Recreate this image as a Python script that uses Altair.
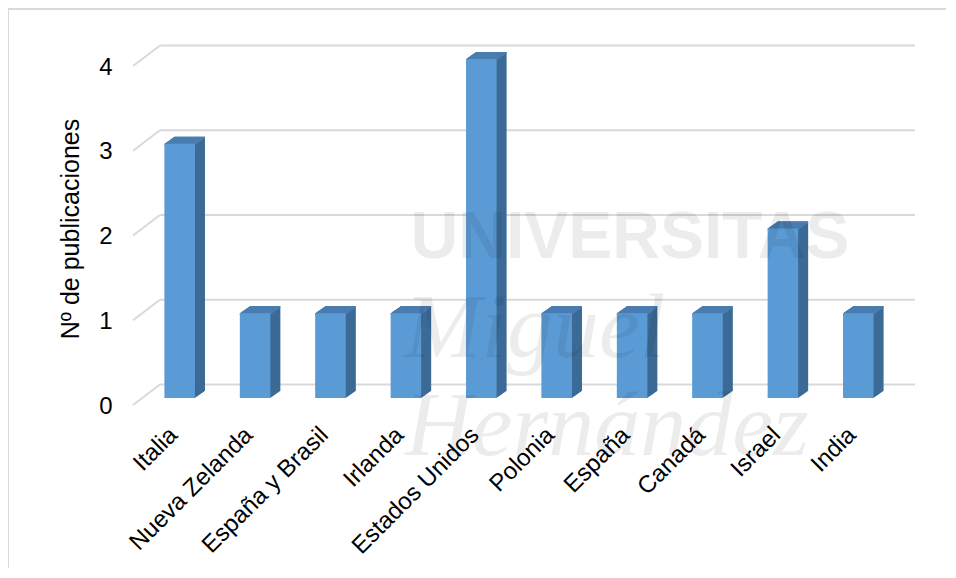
import altair as alt
import pandas as pd

# ---- data ----
paises = ["Italia", "Nueva Zelanda", "España y Brasil", "Irlanda", "Estados Unidos",
          "Polonia", "España", "Canadá", "Israel", "India"]
publicaciones = [3, 1, 1, 1, 4, 1, 1, 1, 2, 1]
ticks_y = [0, 1, 2, 3, 4]
titulo_y = "Nº de publicaciones"
marca_agua = ["UNIVERSITAS", "Miguel", "Hernández"]

# ---- styling ----
FONT = "Liberation Sans"
FRONT = "#5b9bd5"
TOP = "#4a7db1"
SIDE = "#3c6a96"
GRID = "#d9d9d9"
W, H = 754, 339
DEPTH_X, DEPTH_Y = 10, -7

df = pd.DataFrame({"pais": paises, "n": publicaciones})
grid_df = pd.DataFrame({"v": ticks_y})
one = pd.DataFrame({"a": [0]})

x_scale = alt.Scale(paddingInner=0.595, paddingOuter=0.2975)
y_scale = alt.Scale(domain=[0, 4], nice=False, zero=True)

x_enc = alt.X("pais:N", sort=paises, scale=x_scale)
y_enc = alt.Y("n:Q", scale=y_scale)

layers = []

# outer frame (left and top)
layers.append(alt.Chart(one).mark_rule(color=GRID, strokeWidth=2).encode(
    x=alt.value(-134), y=alt.value(-50), y2=alt.value(H + 180)))
layers.append(alt.Chart(one).mark_rule(color=GRID, strokeWidth=2).encode(
    x=alt.value(-135), x2=alt.value(W + 60), y=alt.value(-50)))

# back-wall gridlines
layers.append(alt.Chart(grid_df).mark_rule(color=GRID, strokeWidth=2, yOffset=-13.5).encode(
    x=alt.value(18), x2=alt.value(W + 19),
    y=alt.Y("v:Q", scale=y_scale)))
# floor diagonals
layers.append(alt.Chart(grid_df).mark_rule(color=GRID, strokeWidth=2, yOffset=7, y2Offset=-13.5).encode(
    x=alt.value(-9), x2=alt.value(18),
    y=alt.Y("v:Q", scale=y_scale), y2=alt.Y2("v")))

# extruded side (sweep)
steps = 20
for k in range(1, steps + 1):
    f = k / steps
    dx, dy = DEPTH_X * f, DEPTH_Y * f
    layers.append(alt.Chart(df).mark_bar(color=SIDE, xOffset=dx, yOffset=dy, y2Offset=dy).encode(
        x=x_enc, y=y_enc, y2=alt.datum(0)))
# top face
for k in range(0, steps + 1):
    f = k / steps
    dx, dy = DEPTH_X * f, DEPTH_Y * f
    layers.append(alt.Chart(df).mark_bar(color=TOP, xOffset=dx, yOffset=dy, y2Offset=dy + 1.5).encode(
        x=x_enc, y=y_enc, y2=alt.Y2("n")))

# front face
front = alt.Chart(df).mark_bar(color=FRONT).encode(
    x=alt.X("pais:N", sort=paises, scale=x_scale, title=None),
    y=alt.Y("n:Q", scale=y_scale, title=titulo_y, axis=alt.Axis(values=ticks_y, format="d")),
    y2=alt.datum(0),
)
layers.append(front)

# faint translucent watermark on top
WM_OP = 0.07
layers.append(alt.Chart(one).mark_text(
    font=FONT, fontWeight="bold", fontSize=66, color="#000000", opacity=WM_OP,
    align="center", baseline="alphabetic").encode(
    x=alt.value(488), y=alt.value(199), text=alt.value(marca_agua[0])))
layers.append(alt.Chart(one).mark_text(
    font="Liberation Serif", fontStyle="italic", fontSize=92, color="#000000", opacity=WM_OP,
    align="center", baseline="alphabetic").encode(
    x=alt.value(393), y=alt.value(298), text=alt.value(marca_agua[1])))
layers.append(alt.Chart(one).mark_text(
    font="Liberation Serif", fontStyle="italic", fontSize=92, color="#000000", opacity=WM_OP,
    align="center", baseline="alphabetic").encode(
    x=alt.value(465), y=alt.value(396), text=alt.value(marca_agua[2])))

chart = alt.layer(*layers).properties(
    width=W, height=H,
    autosize=alt.AutoSizeParams(type="none"),
    padding={"left": 134, "top": 51, "right": 50, "bottom": 170},
    background="white",
).configure_view(stroke=None).configure_axis(
    grid=False, domain=False, ticks=False,
    labelFont=FONT, labelFontSize=24, labelColor="#000000",
    titleFont=FONT, titleFontSize=25, titleFontWeight="normal", titleColor="#000000",
).configure_axisX(
    labelAngle=-45, labelAlign="right", labelBaseline="middle",
    labelPadding=33, labelOffset=-6, labelLimit=400, title=None,
).configure_axisY(
    labelPadding=30, labelOffset=8, titlePadding=15,
)

chart.save("out.html", embed_options={"renderer": "svg", "actions": False})
